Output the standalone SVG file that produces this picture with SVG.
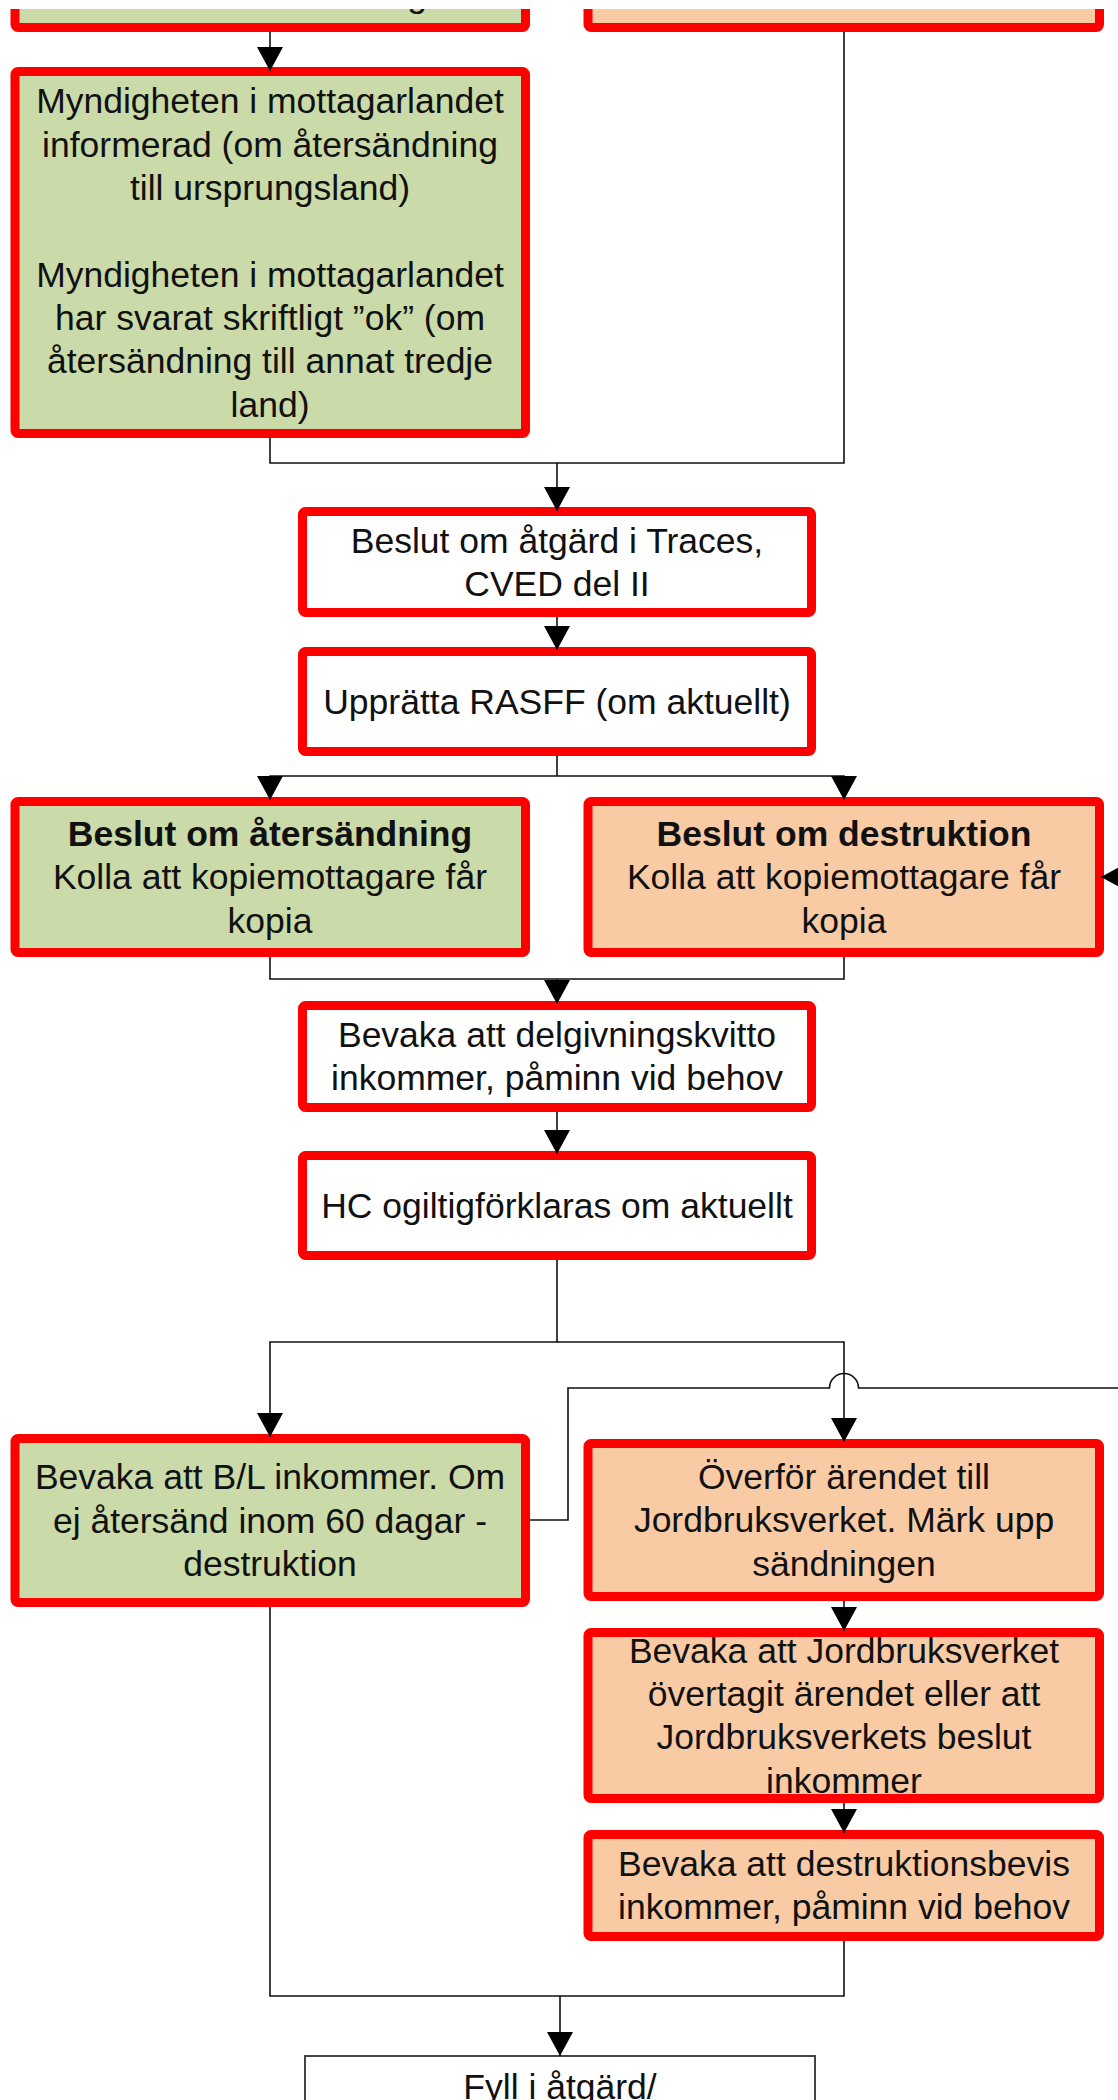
<svg xmlns="http://www.w3.org/2000/svg" width="1118" height="2100" viewBox="0 0 1118 2100">
<style>
.box{stroke:#FF0000;stroke-width:9}
.g{fill:#CBDAA9}
.o{fill:#F9CBA5}
.w{fill:#FFFFFF}
.t{font-family:"Liberation Sans",Arial,sans-serif;font-size:35.5px;fill:#111;text-anchor:middle}
.b{font-weight:bold}
.c{fill:none;stroke:#111;stroke-width:1.6}
.ca{fill:none;stroke:#111;stroke-width:1.6;marker-end:url(#arr)}
</style>
<defs>
<marker id="arr" markerUnits="userSpaceOnUse" markerWidth="24" markerHeight="26" viewBox="0 0 24 26" refX="24" refY="13" orient="auto">
<path d="M0,0 L24,13 L0,26 Z" fill="#000"/>
</marker>
</defs>
<rect x="0" y="0" width="1118" height="2100" fill="#FFFFFF"/>

<g id="n-top-green">
<rect class="box g" x="15" y="-30" width="510.5" height="57.5" rx="3"/>
<text class="t" x="417" y="7">g</text>
</g>
<g id="n-top-orange">
<rect class="box o" x="588" y="-30" width="511.5" height="57.5" rx="3"/>
</g>
<rect x="0" y="0" width="1118" height="9" fill="#FFFFFF"/>

<g id="n-myndigheten">
<rect class="box g" x="15" y="71.5" width="510.5" height="362" rx="3"/>
<text class="t" x="270" y="113.4">Myndigheten i mottagarlandet</text>
<text class="t" x="270" y="156.7">informerad (om återsändning</text>
<text class="t" x="270" y="200">till ursprungsland)</text>
<text class="t" x="270" y="286.6">Myndigheten i mottagarlandet</text>
<text class="t" x="270" y="329.9">har svarat skriftligt ”ok” (om</text>
<text class="t" x="270" y="373.2">återsändning till annat tredje</text>
<text class="t" x="270" y="416.5">land)</text>
</g>

<g id="n-beslut-atgard">
<rect class="box w" x="302.5" y="511.5" width="509" height="101" rx="3"/>
<text class="t" x="557" y="552.5">Beslut om åtgärd i Traces,</text>
<text class="t" x="557" y="595.8">CVED del II</text>
</g>

<g id="n-rasff">
<rect class="box w" x="302.5" y="651.5" width="509" height="100" rx="3"/>
<text class="t" x="557" y="713.5">Upprätta RASFF (om aktuellt)</text>
</g>

<g id="n-beslut-atersandning">
<rect class="box g" x="15" y="801.5" width="510.5" height="151" rx="3"/>
<text class="t b" x="270" y="846">Beslut om återsändning</text>
<text class="t" x="270" y="889.3">Kolla att kopiemottagare får</text>
<text class="t" x="270" y="932.6">kopia</text>
</g>

<g id="n-beslut-destruktion">
<rect class="box o" x="588" y="801.5" width="511.5" height="151" rx="3"/>
<text class="t b" x="844" y="846">Beslut om destruktion</text>
<text class="t" x="844" y="889.3">Kolla att kopiemottagare får</text>
<text class="t" x="844" y="932.6">kopia</text>
</g>

<g id="n-delgivning">
<rect class="box w" x="302.5" y="1005.5" width="509" height="102" rx="3"/>
<text class="t" x="557" y="1047">Bevaka att delgivningskvitto</text>
<text class="t" x="557" y="1090.3">inkommer, påminn vid behov</text>
</g>

<g id="n-hc">
<rect class="box w" x="302.5" y="1155.5" width="509" height="100" rx="3"/>
<text class="t" x="557" y="1217.7">HC ogiltigförklaras om aktuellt</text>
</g>

<g id="n-bl">
<rect class="box g" x="15" y="1438.5" width="510.5" height="164" rx="3"/>
<text class="t" x="270" y="1489.4">Bevaka att B/L inkommer. Om</text>
<text class="t" x="270" y="1532.7">ej återsänd inom 60 dagar -</text>
<text class="t" x="270" y="1576">destruktion</text>
</g>

<g id="n-overfor">
<rect class="box o" x="588" y="1443.5" width="511.5" height="153" rx="3"/>
<text class="t" x="844" y="1488.9">Överför ärendet till</text>
<text class="t" x="844" y="1532.2">Jordbruksverket. Märk upp</text>
<text class="t" x="844" y="1575.5">sändningen</text>
</g>

<g id="n-bevaka-jbv">
<rect class="box o" x="588" y="1632.5" width="511.5" height="166" rx="3"/>
<text class="t" x="844" y="1662.7">Bevaka att Jordbruksverket</text>
<text class="t" x="844" y="1706">övertagit ärendet eller att</text>
<text class="t" x="844" y="1749.3">Jordbruksverkets beslut</text>
<text class="t" x="844" y="1792.6">inkommer</text>
</g>

<g id="n-destruktionsbevis">
<rect class="box o" x="588" y="1834.5" width="511.5" height="102" rx="3"/>
<text class="t" x="844" y="1876">Bevaka att destruktionsbevis</text>
<text class="t" x="844" y="1919.3">inkommer, påminn vid behov</text>
</g>

<g id="n-fyll">
<rect x="305" y="2056" width="510" height="100" fill="#FFFFFF" stroke="#444" stroke-width="2"/>
<text class="t" x="560" y="2099">Fyll i åtgärd/</text>
</g>

<g id="connectors">
<path class="ca" d="M270,32 V71"/>
<path class="c" d="M270,438 V463 H844 V32"/>
<path class="ca" d="M557,463 V511"/>
<path class="ca" d="M557,617 V650"/>
<path class="ca" d="M557,756 V776 H270 V800"/>
<path class="ca" d="M557,776 H844 V800"/>
<path class="c" d="M270,957 V979 H844 V957"/>
<path class="ca" d="M557,979 V1004"/>
<path class="ca" d="M557,1112 V1154"/>
<path class="ca" d="M557,1260 V1342 H270 V1437"/>
<path class="ca" d="M557,1342 H844 V1442"/>
<path class="ca" d="M530,1520 H568 V1388 H829.5 A14.5,14.5 0 0 1 858.5,1388 H1140 V877 H1101"/>
<path class="ca" d="M844,1601 V1631"/>
<path class="ca" d="M844,1803 V1833"/>
<path class="c" d="M270,1607 V1996 H844 V1941"/>
<path class="ca" d="M560,1996 V2056"/>
</g>
</svg>
